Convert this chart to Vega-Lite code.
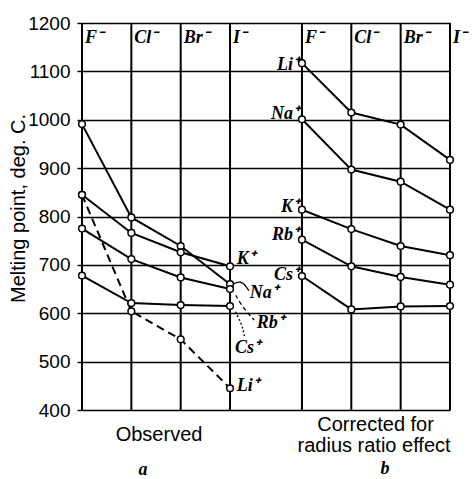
{
  "$schema": "https://vega.github.io/schema/vega-lite/v6.json",
  "width": 368,
  "height": 387,
  "autosize": {"type": "none"},
  "padding": {"left": 82, "top": 23, "right": 24, "bottom": 69},
  "background": "white",
  "config": {"view": {"stroke": null}},
  "datasets": {
    "mp": [
      {"panel": "a", "cation": "Li", "anion": "F", "mp": 845},
      {"panel": "a", "cation": "Li", "anion": "Cl", "mp": 604},
      {"panel": "a", "cation": "Li", "anion": "Br", "mp": 546},
      {"panel": "a", "cation": "Li", "anion": "I", "mp": 445},
      {"panel": "a", "cation": "Na", "anion": "F", "mp": 991},
      {"panel": "a", "cation": "Na", "anion": "Cl", "mp": 798},
      {"panel": "a", "cation": "Na", "anion": "Br", "mp": 739},
      {"panel": "a", "cation": "Na", "anion": "I", "mp": 660},
      {"panel": "a", "cation": "K", "anion": "F", "mp": 845},
      {"panel": "a", "cation": "K", "anion": "Cl", "mp": 766},
      {"panel": "a", "cation": "K", "anion": "Br", "mp": 726},
      {"panel": "a", "cation": "K", "anion": "I", "mp": 697},
      {"panel": "a", "cation": "Rb", "anion": "F", "mp": 775},
      {"panel": "a", "cation": "Rb", "anion": "Cl", "mp": 712},
      {"panel": "a", "cation": "Rb", "anion": "Br", "mp": 674},
      {"panel": "a", "cation": "Rb", "anion": "I", "mp": 650},
      {"panel": "a", "cation": "Cs", "anion": "F", "mp": 678},
      {"panel": "a", "cation": "Cs", "anion": "Cl", "mp": 621},
      {"panel": "a", "cation": "Cs", "anion": "Br", "mp": 617},
      {"panel": "a", "cation": "Cs", "anion": "I", "mp": 615},
      {"panel": "b", "cation": "Li", "anion": "F", "mp": 1117},
      {"panel": "b", "cation": "Li", "anion": "Cl", "mp": 1015},
      {"panel": "b", "cation": "Li", "anion": "Br", "mp": 990},
      {"panel": "b", "cation": "Li", "anion": "I", "mp": 917},
      {"panel": "b", "cation": "Na", "anion": "F", "mp": 1001},
      {"panel": "b", "cation": "Na", "anion": "Cl", "mp": 897},
      {"panel": "b", "cation": "Na", "anion": "Br", "mp": 872},
      {"panel": "b", "cation": "Na", "anion": "I", "mp": 814},
      {"panel": "b", "cation": "K", "anion": "F", "mp": 814},
      {"panel": "b", "cation": "K", "anion": "Cl", "mp": 774},
      {"panel": "b", "cation": "K", "anion": "Br", "mp": 739},
      {"panel": "b", "cation": "K", "anion": "I", "mp": 720},
      {"panel": "b", "cation": "Rb", "anion": "F", "mp": 752},
      {"panel": "b", "cation": "Rb", "anion": "Cl", "mp": 697},
      {"panel": "b", "cation": "Rb", "anion": "Br", "mp": 675},
      {"panel": "b", "cation": "Rb", "anion": "I", "mp": 659},
      {"panel": "b", "cation": "Cs", "anion": "F", "mp": 677},
      {"panel": "b", "cation": "Cs", "anion": "Cl", "mp": 608},
      {"panel": "b", "cation": "Cs", "anion": "Br", "mp": 614},
      {"panel": "b", "cation": "Cs", "anion": "I", "mp": 615}
    ],
    "cols": [
      {"panel": "a", "anion": "F", "label": "F⁻"},
      {"panel": "a", "anion": "Cl", "label": "Cl⁻"},
      {"panel": "a", "anion": "Br", "label": "Br⁻"},
      {"panel": "a", "anion": "I", "label": "I⁻"},
      {"panel": "b", "anion": "F", "label": "F⁻"},
      {"panel": "b", "anion": "Cl", "label": "Cl⁻"},
      {"panel": "b", "anion": "Br", "label": "Br⁻"},
      {"panel": "b", "anion": "I", "label": "I⁻"}
    ],
    "labels": [
      {"group": "a", "text": "K⁺", "x": 3.125, "y": 713},
      {"group": "a", "text": "Na⁺", "x": 3.39, "y": 642},
      {"group": "a", "text": "Rb⁺", "x": 3.53, "y": 580},
      {"group": "a", "text": "Cs⁺", "x": 3.09, "y": 529},
      {"group": "a", "text": "Li⁺", "x": 3.125, "y": 450},
      {"group": "b", "text": "Li⁺", "x": 4.384, "y": 1113},
      {"group": "b", "text": "Na⁺", "x": 4.384, "y": 1011},
      {"group": "b", "text": "K⁺", "x": 4.384, "y": 820},
      {"group": "b", "text": "Rb⁺", "x": 4.384, "y": 761},
      {"group": "b", "text": "Cs⁺", "x": 4.384, "y": 680},
      {"group": "caption", "text": "Observed", "x": 1.556, "y": 348},
      {"group": "caption", "text": "Corrected for", "x": 5.93, "y": 369},
      {"group": "caption", "text": "radius ratio effect", "x": 5.9, "y": 326},
      {"group": "letter", "text": "a", "x": 1.23, "y": 276},
      {"group": "letter", "text": "b", "x": 6.12, "y": 278}
    ],
    "leaders": [
      {"leader": "Na", "x": 3.05, "y": 660},
      {"leader": "Na", "x": 3.17, "y": 666},
      {"leader": "Na", "x": 3.27, "y": 662},
      {"leader": "Na", "x": 3.37, "y": 647},
      {"leader": "Rb", "x": 3.105, "y": 637},
      {"leader": "Rb", "x": 3.26, "y": 610},
      {"leader": "Rb", "x": 3.48, "y": 586},
      {"leader": "Cs", "x": 3.1, "y": 603},
      {"leader": "Cs", "x": 3.2, "y": 583},
      {"leader": "Cs", "x": 3.26, "y": 565},
      {"leader": "Cs", "x": 3.28, "y": 553}
    ]
  },
  "resolve": {"scale": {"x": "independent"}},
  "layer": [
    {
      "encoding": {
        "x": {"field": "panel", "type": "nominal", "axis": null,
              "scale": {"type": "band", "domain": ["a", "b"], "paddingInner": 0.327, "paddingOuter": 0}},
        "xOffset": {"field": "anion", "type": "nominal",
              "scale": {"type": "point", "padding": 0, "domain": ["F", "Cl", "Br", "I"]}}
      },
      "layer": [
        {
          "data": {"name": "cols"},
          "mark": {"type": "rule", "color": "black", "strokeWidth": 2},
          "encoding": {
            "y": {"datum": 400, "type": "quantitative",
                  "scale": {"domain": [400, 1200], "nice": false, "zero": false},
                  "axis": {
                    "values": [400, 500, 600, 700, 800, 900, 1000, 1100, 1200], "format": "d",
                    "grid": true, "gridColor": "black", "gridWidth": 1.4, "gridOpacity": 1,
                    "domain": false, "ticks": true, "tickSize": 5, "tickColor": "black", "tickWidth": 1.4,
                    "labelFont": "Liberation Sans", "labelFontSize": 19, "labelColor": "black", "labelPadding": 7,
                    "title": "Melting point, deg. C.", "titleFont": "Liberation Sans", "titleFontSize": 20,
                    "titleFontWeight": "normal", "titleColor": "black", "titleAngle": -90,
                    "titleX": -54, "titleY": 185, "titleAlign": "center", "titleBaseline": "bottom"
                  }},
            "y2": {"datum": 1200}
          }
        },
        {
          "data": {"name": "cols"},
          "mark": {"type": "text", "align": "left", "baseline": "alphabetic", "dx": 3,
                   "font": "Liberation Serif", "fontStyle": "italic", "fontWeight": "bold", "fontSize": 18, "color": "black"},
          "encoding": {
            "y": {"datum": 1158, "type": "quantitative"},
            "text": {"field": "label"}
          }
        },
        {
          "data": {"name": "mp"},
          "transform": [{"filter": "!(datum.panel == 'a' && datum.cation == 'Li')"}],
          "mark": {"type": "line", "color": "black", "strokeWidth": 2},
          "encoding": {
            "y": {"field": "mp", "type": "quantitative"},
            "detail": [{"field": "cation"}, {"field": "panel"}]
          }
        },
        {
          "data": {"name": "mp"},
          "transform": [{"filter": "datum.panel == 'a' && datum.cation == 'Li'"}],
          "mark": {"type": "line", "color": "black", "strokeWidth": 2, "strokeDash": [8, 5]},
          "encoding": {
            "y": {"field": "mp", "type": "quantitative"}
          }
        },
        {
          "data": {"name": "mp"},
          "mark": {"type": "point", "shape": "circle", "filled": true, "fill": "white", "stroke": "black", "strokeWidth": 1.5, "size": 45, "opacity": 1},
          "encoding": {
            "y": {"field": "mp", "type": "quantitative"}
          }
        }
      ]
    },
    {
      "encoding": {
        "x": {"field": "x", "type": "quantitative", "axis": null,
              "scale": {"domain": [0, 7.434], "nice": false, "zero": false}},
        "y": {"field": "y", "type": "quantitative"}
      },
      "layer": [
        {
          "data": {"name": "leaders"},
          "mark": {"type": "line", "color": "black", "strokeWidth": 1.3, "interpolate": "basis"},
          "encoding": {
            "strokeDash": {"field": "leader", "type": "nominal", "legend": null,
                           "scale": {"domain": ["Na", "Rb", "Cs"], "range": [[1, 0], [4, 3], [2, 2]]}}
          }
        },
        {
          "data": {"name": "labels"},
          "transform": [{"filter": "datum.group == 'a'"}],
          "mark": {"type": "text", "align": "left", "baseline": "middle",
                   "font": "Liberation Serif", "fontStyle": "italic", "fontWeight": "bold", "fontSize": 18, "color": "black"},
          "encoding": {"text": {"field": "text"}}
        },
        {
          "data": {"name": "labels"},
          "transform": [{"filter": "datum.group == 'b'"}],
          "mark": {"type": "text", "align": "right", "baseline": "middle",
                   "font": "Liberation Serif", "fontStyle": "italic", "fontWeight": "bold", "fontSize": 18, "color": "black"},
          "encoding": {"text": {"field": "text"}}
        },
        {
          "data": {"name": "labels"},
          "transform": [{"filter": "datum.group == 'caption'"}],
          "mark": {"type": "text", "align": "center", "baseline": "middle",
                   "font": "Liberation Sans", "fontSize": 20, "color": "black"},
          "encoding": {"text": {"field": "text"}}
        },
        {
          "data": {"name": "labels"},
          "transform": [{"filter": "datum.group == 'letter'"}],
          "mark": {"type": "text", "align": "center", "baseline": "middle",
                   "font": "Liberation Serif", "fontStyle": "italic", "fontWeight": "bold", "fontSize": 18, "color": "black"},
          "encoding": {"text": {"field": "text"}}
        }
      ]
    }
  ]
}
